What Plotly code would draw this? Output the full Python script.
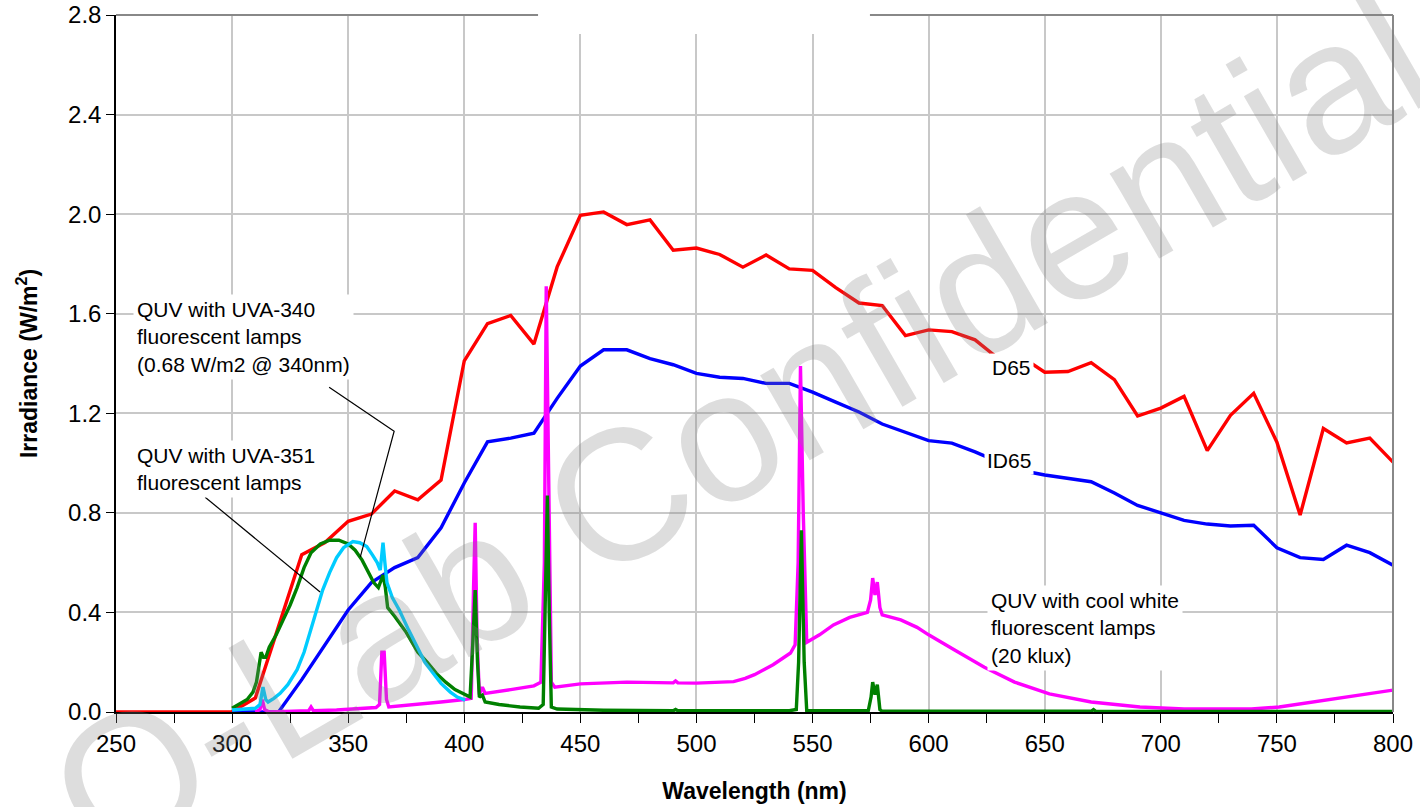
import plotly.graph_objects as go

FONT = "Liberation Sans, Arial, sans-serif"

# ---- D65 (red) and ID65 (blue), 10 nm steps ----
wl_d65 = [250, 260, 270, 280, 290, 300, 310, 320, 330, 340, 350, 360, 370, 380, 390, 400,
          410, 420, 430, 440, 450, 460, 470, 480, 490, 500, 510, 520, 530, 540, 550,
          560, 570, 580, 590, 600, 610, 620, 630, 640, 650, 660, 670, 680, 690, 700,
          710, 720, 730, 740, 750, 760, 770, 780, 790, 800]
d65 = [0, 0, 0, 0, 0, 0.001, 0.056, 0.345, 0.632, 0.681, 0.766, 0.795, 0.888, 0.852, 0.932, 1.411,
       1.560, 1.593, 1.478, 1.788, 1.995, 2.009, 1.958, 1.977, 1.855, 1.864, 1.838, 1.787, 1.836, 1.780, 1.774,
       1.705, 1.643, 1.633, 1.512, 1.535, 1.528, 1.495, 1.420, 1.427, 1.365, 1.368, 1.403, 1.335, 1.189, 1.221,
       1.268, 1.050, 1.192, 1.280, 1.084, 0.791, 1.139, 1.081, 1.100, 1.004]

wl_id65 = [300, 310, 320, 330, 340, 350, 360, 370, 380, 390, 400,
           410, 420, 430, 440, 450, 460, 470, 480, 490, 500, 510, 520, 530, 540, 550,
           560, 570, 580, 590, 600, 610, 620, 630, 640, 650, 660, 670, 680, 690, 700,
           710, 720, 730, 740, 750, 760, 770, 780, 790, 800]
id65 = [0, 0, 0, 0.13, 0.27, 0.41, 0.52, 0.58, 0.62, 0.74, 0.92,
        1.085, 1.10, 1.12, 1.26, 1.39, 1.455, 1.455, 1.42, 1.395, 1.36, 1.345, 1.34, 1.32, 1.32, 1.285,
        1.245, 1.205, 1.157, 1.125, 1.09, 1.08, 1.045, 1.005, 0.97, 0.952, 0.94, 0.925, 0.88, 0.83, 0.80,
        0.77, 0.755, 0.747, 0.75, 0.66, 0.62, 0.613, 0.67, 0.64, 0.59]

# ---- QUV with cool white lamps (magenta) ----
wl_cw = [310, 312, 313, 314, 316, 333, 334, 335, 345, 355, 362, 363.5, 364.5, 365.5, 366.5, 367.5,
         380, 390, 400, 403, 404, 404.7, 405.5, 406.5, 407.8, 409, 420, 430, 433, 434.5, 435.3, 436.3,
         437.5, 439, 450, 470, 490, 491, 492, 500, 510, 516, 521, 525, 529, 533, 537, 540.5, 542.5,
         543.8, 544.8, 546, 547.5, 553, 559, 566, 573.6, 575, 575.9, 576.9, 577.9, 579, 580, 588,
         595, 600, 611, 624, 637, 652, 670, 691, 710, 739, 751, 768, 783, 800]
cw = [0.0, 0.01, 0.05, 0.01, 0.0, 0.005, 0.02, 0.005, 0.008, 0.012, 0.018, 0.03, 0.24, 0.24, 0.05, 0.02,
      0.03, 0.04, 0.05, 0.055, 0.5, 0.76, 0.3, 0.07, 0.10, 0.075, 0.09, 0.105, 0.12, 0.6, 1.71, 1.0,
      0.12, 0.10, 0.113, 0.12, 0.117, 0.125, 0.117, 0.116, 0.118, 0.122, 0.135, 0.15, 0.17, 0.19, 0.215, 0.237, 0.27,
      0.6, 1.39, 0.8, 0.28, 0.31, 0.35, 0.38, 0.40, 0.45, 0.538, 0.47, 0.522, 0.42, 0.39, 0.37,
      0.34, 0.31, 0.25, 0.18, 0.12, 0.073, 0.04, 0.02, 0.012, 0.012, 0.02, 0.044, 0.064, 0.088]

# ---- QUV with UVA-340 lamps (green) ----
wl_340 = [300, 303, 306.5, 309, 310.5, 311.5, 312.5, 313.5, 314.5, 316, 319, 322, 325, 328, 331, 334,
          338, 342, 346, 350, 353, 356, 359, 361, 363, 364, 365, 366, 367, 370, 375, 380, 384, 388,
          392, 396, 400, 402.5, 403.8, 404.7, 405.7, 406.5, 407.8, 409, 415, 424, 432, 434, 435, 435.8,
          436.6, 437.5, 440, 460, 490, 491, 492, 540, 543, 544, 545.2, 546.4, 547.5, 574, 575.2, 575.9,
          576.9, 577.9, 579, 580, 670, 671, 672, 800]
uva340 = [0.015, 0.03, 0.05, 0.08, 0.12, 0.18, 0.24, 0.22, 0.22, 0.26, 0.31, 0.37, 0.43, 0.50, 0.58, 0.64,
          0.675, 0.69, 0.69, 0.675, 0.65, 0.61, 0.56, 0.52, 0.50, 0.53, 0.55, 0.50, 0.42, 0.385, 0.32, 0.24, 0.20, 0.155,
          0.12, 0.09, 0.073, 0.06, 0.30, 0.49, 0.20, 0.06, 0.068, 0.04, 0.03, 0.02, 0.015, 0.03, 0.5, 0.87,
          0.4, 0.02, 0.012, 0.007, 0.005, 0.01, 0.005, 0.005, 0.01, 0.2, 0.73, 0.2, 0.005, 0.005, 0.06, 0.12,
          0.07, 0.11, 0.01, 0.003, 0.003, 0.01, 0.003, 0.002]

# ---- QUV with UVA-351 lamps (cyan) ----
wl_351 = [300, 305, 310, 312, 313.3, 314.5, 315.5, 318, 320.7, 324, 328, 331, 333.6, 336, 339, 342,
          345, 348, 352, 355, 358, 360.5, 362.5, 363.8, 364.5, 365, 365.8, 366.7, 369, 372, 376, 379.7,
          383, 386.7, 390, 394, 397, 400.4]
uva351 = [0.008, 0.01, 0.015, 0.03, 0.10, 0.05, 0.04, 0.055, 0.075, 0.11, 0.17, 0.24, 0.32, 0.40, 0.49, 0.56,
          0.62, 0.66, 0.685, 0.68, 0.665, 0.63, 0.60, 0.57, 0.62, 0.68, 0.60, 0.52, 0.46, 0.41, 0.33, 0.26,
          0.20, 0.155, 0.115, 0.08, 0.06, 0.048]

x_ticks = [250, 300, 350, 400, 450, 500, 550, 600, 650, 700, 750, 800]
y_ticks = [0.0, 0.4, 0.8, 1.2, 1.6, 2.0, 2.4, 2.8]

fig = go.Figure()
LW = 3.4
fig.add_trace(go.Scatter(x=wl_d65, y=d65, mode="lines", line=dict(color="#ff0000", width=LW), name="D65"))
fig.add_trace(go.Scatter(x=wl_id65, y=id65, mode="lines", line=dict(color="#0000ff", width=LW), name="ID65"))
fig.add_trace(go.Scatter(x=wl_cw, y=cw, mode="lines", line=dict(color="#ff00ff", width=LW), name="Cool white"))
fig.add_trace(go.Scatter(x=wl_340, y=uva340, mode="lines", line=dict(color="#008000", width=LW), name="UVA-340"))
fig.add_trace(go.Scatter(x=wl_351, y=uva351, mode="lines", line=dict(color="#00ccff", width=LW), name="UVA-351"))

fig.update_layout(
    width=1420, height=807,
    margin=dict(l=116, r=27, t=15, b=95, autoexpand=False),
    paper_bgcolor="white", plot_bgcolor="white",
    showlegend=False,
    font=dict(family=FONT, color="black", size=24),
)
fig.update_xaxes(
    range=[250, 800], tickvals=x_ticks, ticks="outside", ticklen=9, tickwidth=1, tickcolor="black",
    showline=True, linecolor="black", linewidth=1.5, automargin=False, ticklabeloverflow="allow",
    showgrid=True, gridcolor="#c8c8c8", gridwidth=2, zeroline=False,
    minor=dict(dtick=25, tick0=250, ticks="outside", ticklen=9, tickcolor="black", showgrid=False),
    tickfont=dict(size=24, family=FONT),
    title=dict(text="<b>Wavelength (nm)</b>", font=dict(size=23, family=FONT), standoff=27),
)
fig.update_yaxes(
    range=[0, 2.8], tickvals=y_ticks, tickformat=".1f", ticks="outside", ticklen=8, tickcolor="black",
    showline=True, linecolor="black", linewidth=1.5, automargin=False, ticklabeloverflow="allow",
    showgrid=True, gridcolor="#c8c8c8", gridwidth=2, zeroline=False,
    tickfont=dict(size=24, family=FONT),
    title=dict(text="<b>Irradiance (W/m<sup>2</sup>)</b>", font=dict(size=23, family=FONT), standoff=24),
)

# white patch over top border gap, and gray plot-area border (top/right)
fig.add_shape(type="rect", xref="paper", yref="paper", x0=0.3305, x1=0.5904, y0=0.9727, y1=1.03,
              fillcolor="white", line=dict(width=0), layer="above")
border = dict(color="#888888", width=2)
fig.add_shape(type="line", xref="paper", yref="paper", x0=0, x1=0.3305, y0=1, y1=1, line=border, layer="above")
fig.add_shape(type="line", xref="paper", yref="paper", x0=0.5904, x1=1, y0=1, y1=1, line=border, layer="above")
fig.add_shape(type="line", xref="paper", yref="paper", x0=1, x1=1, y0=0, y1=1, line=border, layer="above")

# leader lines
fig.add_shape(type="path", xref="x", yref="y", path="M 341.8,1.305 L 369.8,1.128 L 355.2,0.622",
              line=dict(color="black", width=1.2), layer="above")
fig.add_shape(type="line", xref="x", yref="y", x0=288.4, y0=0.863, x1=337.9, y1=0.482,
              line=dict(color="black", width=1.2), layer="above")

lab = dict(family=FONT, size=21, color="black")
fig.add_annotation(x=257.3, y=1.508, xref="x", yref="y", xanchor="left", yanchor="middle", align="left",
                   text="QUV with UVA-340<br>fluorescent lamps<br>(0.68 W/m2 @ 340nm)",
                   showarrow=False, bgcolor="white", borderpad=3, font=lab)
fig.add_annotation(x=257.3, y=0.978, xref="x", yref="y", xanchor="left", yanchor="middle", align="left",
                   text="QUV with UVA-351<br>fluorescent lamps",
                   showarrow=False, bgcolor="white", borderpad=3, font=lab)
fig.add_annotation(x=625.0, y=0.337, xref="x", yref="y", xanchor="left", yanchor="middle", align="left",
                   text="QUV with cool white<br>fluorescent lamps<br>(20 klux)",
                   showarrow=False, bgcolor="white", borderpad=3, font=lab)
fig.add_annotation(x=635.8, y=1.382, xref="x", yref="y", xanchor="center", yanchor="middle",
                   text="D65", showarrow=False, bgcolor="white", borderpad=2, font=lab)
fig.add_annotation(x=634.5, y=1.01, xref="x", yref="y", xanchor="center", yanchor="middle",
                   text="ID65", showarrow=False, bgcolor="white", borderpad=2, font=lab)

# watermark
fig.add_annotation(x=0.488, y=0.41, xref="paper", yref="paper", xanchor="center", yanchor="middle",
                   text="Q-Lab Confidential", showarrow=False, textangle=-30,
                   font=dict(family=FONT, size=186, color="rgba(128,128,128,0.27)"))

# remove the default 8px page margin so the figure sits at the window's top-left corner
fig.write_html("out.html", config={"displayModeBar": False},
               post_script="document.body.style.margin='0';")
